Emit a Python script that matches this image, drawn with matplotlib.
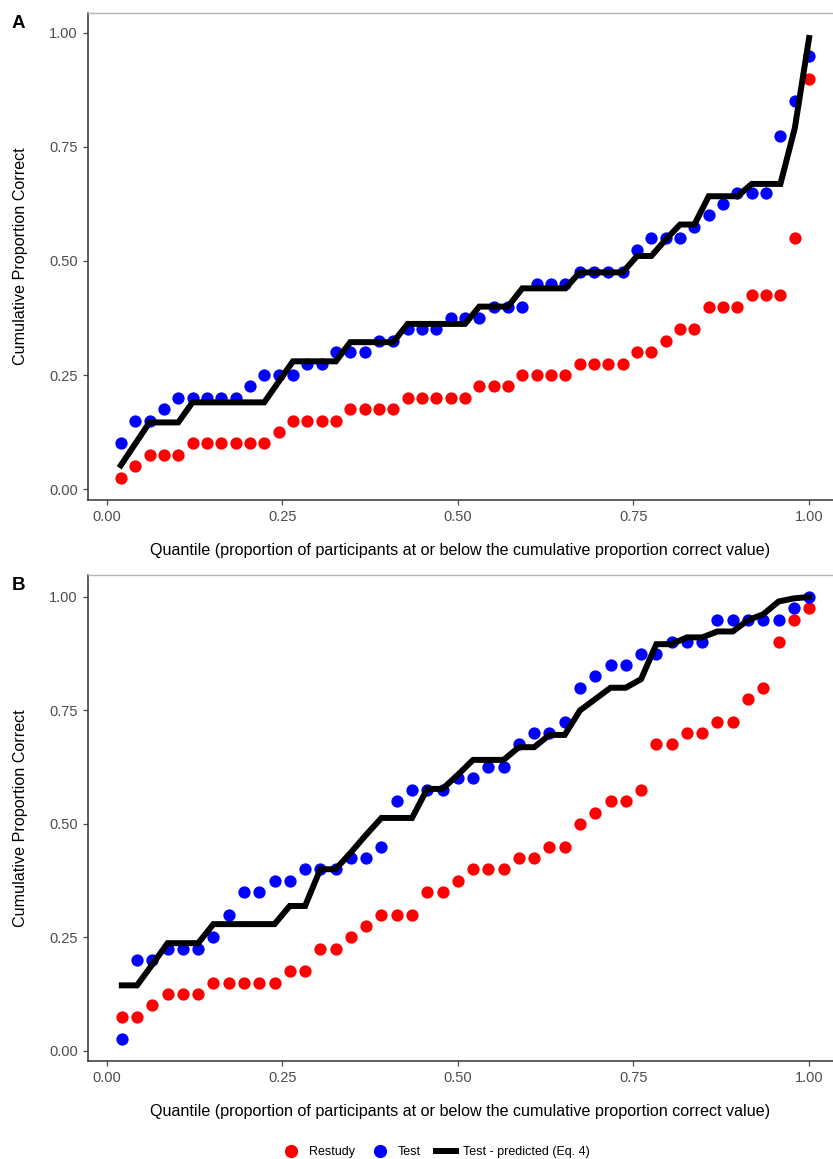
import matplotlib
matplotlib.use('Agg')
import matplotlib.pyplot as plt
from matplotlib.lines import Line2D
import numpy as np

plt.rcParams['font.family'] = ['Liberation Sans', 'DejaVu Sans']

# panel A (49 participants)
restudy_a = [0.025, 0.05, 0.075, 0.075, 0.075, 0.1, 0.1, 0.1, 0.1, 0.1, 0.1, 0.125,
             0.15, 0.15, 0.15, 0.15, 0.175, 0.175, 0.175, 0.175, 0.2, 0.2, 0.2, 0.2, 0.2,
             0.225, 0.225, 0.225, 0.25, 0.25, 0.25, 0.25, 0.275, 0.275, 0.275, 0.275,
             0.3, 0.3, 0.325, 0.35, 0.35, 0.4, 0.4, 0.4, 0.425, 0.425, 0.425, 0.55, 0.9]
test_a = [0.1, 0.15, 0.15, 0.175, 0.2, 0.2, 0.2, 0.2, 0.2, 0.225, 0.25, 0.25, 0.25,
          0.275, 0.275, 0.3, 0.3, 0.3, 0.325, 0.325, 0.35, 0.35, 0.35, 0.375, 0.375, 0.375,
          0.4, 0.4, 0.4, 0.45, 0.45, 0.45, 0.475, 0.475, 0.475, 0.475, 0.525, 0.55, 0.55,
          0.55, 0.575, 0.6, 0.625, 0.65, 0.65, 0.65, 0.775, 0.85, 0.95]
pred_a = [0.052, 0.099, 0.146, 0.146, 0.146, 0.19, 0.19, 0.19, 0.19, 0.19, 0.19, 0.235,
          0.28, 0.28, 0.28, 0.28, 0.322, 0.322, 0.322, 0.322, 0.362, 0.362, 0.362, 0.362,
          0.362, 0.40, 0.40, 0.40, 0.44, 0.44, 0.44, 0.44, 0.475, 0.475, 0.475, 0.475,
          0.511, 0.511, 0.547, 0.58, 0.58, 0.642, 0.642, 0.642, 0.669, 0.669, 0.669,
          0.791, 0.989]

# panel B (46 participants)
restudy_b = [0.075, 0.075, 0.1, 0.125, 0.125, 0.125, 0.15, 0.15, 0.15, 0.15, 0.15,
             0.175, 0.175, 0.225, 0.225, 0.25, 0.275, 0.3, 0.3, 0.3, 0.35, 0.35, 0.375,
             0.4, 0.4, 0.4, 0.425, 0.425, 0.45, 0.45, 0.5, 0.525, 0.55, 0.55, 0.575,
             0.675, 0.675, 0.7, 0.7, 0.725, 0.725, 0.775, 0.8, 0.9, 0.95, 0.975]
test_b = [0.025, 0.2, 0.2, 0.225, 0.225, 0.225, 0.25, 0.3, 0.35, 0.35, 0.375, 0.375,
          0.4, 0.4, 0.4, 0.425, 0.425, 0.45, 0.55, 0.575, 0.575, 0.575, 0.6, 0.6,
          0.625, 0.625, 0.675, 0.7, 0.7, 0.725, 0.8, 0.825, 0.85, 0.85, 0.875, 0.875,
          0.9, 0.9, 0.9, 0.95, 0.95, 0.95, 0.95, 0.95, 0.975, 1.0]
pred_b = [0.144, 0.144, 0.19, 0.237, 0.237, 0.237, 0.279, 0.279, 0.279, 0.279, 0.279,
          0.319, 0.319, 0.40, 0.40, 0.437, 0.476, 0.513, 0.513, 0.513, 0.577, 0.577,
          0.608, 0.641, 0.641, 0.641, 0.669, 0.669, 0.696, 0.696, 0.75, 0.775, 0.80,
          0.80, 0.819, 0.896, 0.896, 0.911, 0.911, 0.924, 0.924, 0.949, 0.962, 0.99,
          0.997, 1.0]

ticks = [0.0, 0.25, 0.5, 0.75, 1.0]
tick_labels = ['0.00', '0.25', '0.50', '0.75', '1.00']
xlabel = 'Quantile (proportion of participants at or below the cumulative proportion correct value)'
ylabel = 'Cumulative Proportion Correct'

W, H = 833, 1159
fig = plt.figure(figsize=(W / 100, H / 100), dpi=100)


def make_panel(top, bottom, y0, y1, restudy, test, pred, letter):
    ax = fig.add_axes([87.5 / W, 1 - bottom / H, 1 - 87.5 / W, (bottom - top) / H])
    q = np.arange(1, len(restudy) + 1) / len(restudy)
    ax.scatter(q, restudy, s=78, color='#FF0000', linewidths=0, zorder=2)
    ax.scatter(q, test, s=78, color='#0000FF', linewidths=0, zorder=3)
    ax.plot(q, pred, color='black', lw=4.3, zorder=4, solid_joinstyle='miter')
    # limits so that 0 and 1 land where the reference puts them
    ax.set_xlim((87.5 - 106.5) / 702.6, (W - 106.5) / 702.6)
    unit = y0 - y1
    ax.set_ylim(-(bottom - y0) / unit, (y0 - top) / unit)
    ax.set_xticks(ticks)
    ax.set_xticklabels(tick_labels)
    ax.set_yticks(ticks)
    ax.set_yticklabels(tick_labels)
    ax.tick_params(colors='#4d4d4d', labelsize=10.5, length=3.5, width=0.9)
    ax.tick_params(axis='x', pad=4)
    for s in ['left', 'bottom']:
        ax.spines[s].set_color('#333333')
        ax.spines[s].set_linewidth(1.1)
    ax.spines['right'].set_visible(False)
    ax.spines['top'].set_color('#b3b3b3')
    ax.spines['top'].set_linewidth(1.0)
    ax.set_xlabel(xlabel, fontsize=11.6, color='black', labelpad=13.5)
    ax.set_ylabel(ylabel, fontsize=11.6, color='black', labelpad=15)
    fig.text(12 / W, 1 - (top + 10) / H, letter, fontsize=13.5, fontweight='bold',
             ha='left', va='center')
    return ax


make_panel(13, 500, 489, 33, restudy_a, test_a, pred_a, 'A')
make_panel(575, 1060.7, 1050.7, 597, restudy_b, test_b, pred_b, 'B')

handles = [Line2D([], [], marker='o', color='#FF0000', ls='none', markersize=8.5),
           Line2D([], [], marker='o', color='#0000FF', ls='none', markersize=8.5),
           Line2D([], [], color='black', lw=4.3)]
fig.legend(handles, ['Restudy', 'Test', 'Test - predicted (Eq. 4)'], ncol=3,
           loc='center', bbox_to_anchor=(0.523, 1 - 1152 / H), frameon=False,
           fontsize=9, handlelength=1.6, handletextpad=0.6, columnspacing=1.2)

fig.savefig('out.png', dpi=100)
